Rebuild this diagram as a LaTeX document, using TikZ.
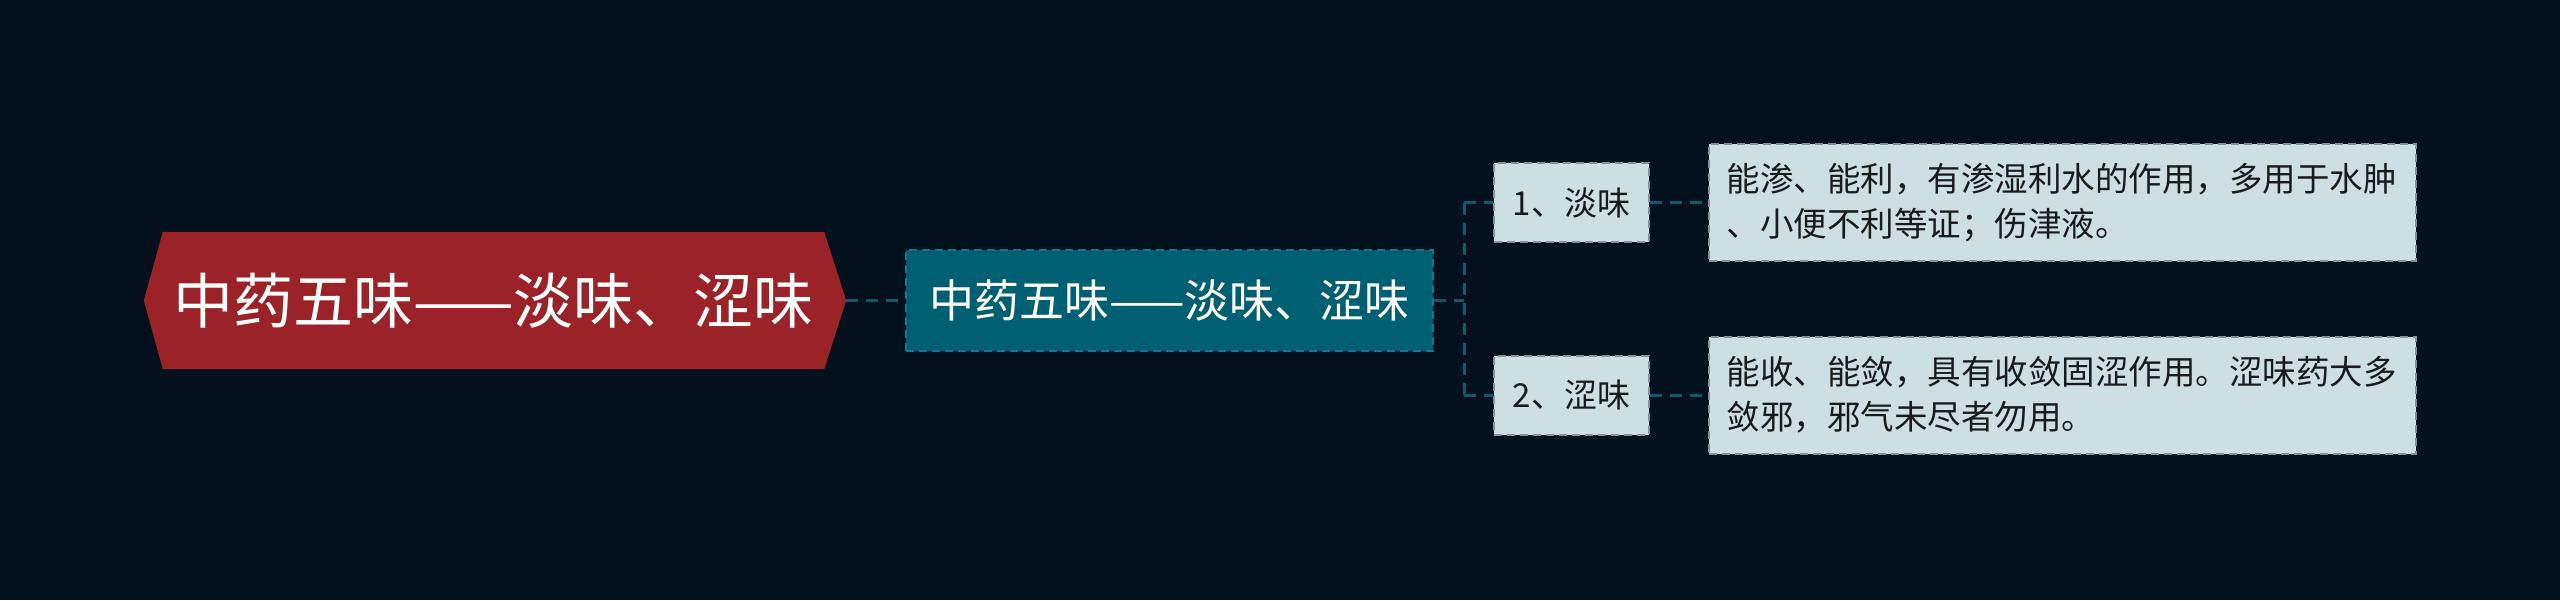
\documentclass[tikz,border=0pt]{standalone}
\usepackage{fontspec}
\setmainfont{Noto Sans CJK SC}
\usetikzlibrary{calc}
\definecolor{bg}{HTML}{02111B}
\definecolor{rootred}{HTML}{9B2226}
\definecolor{midteal}{HTML}{005F73}
\definecolor{midedge}{HTML}{0A7A90}
\definecolor{lightbox}{HTML}{CDDFE3}
\definecolor{lightedge}{HTML}{7E9499}
\definecolor{linkc}{HTML}{0E5A6A}
\definecolor{darktext}{HTML}{1A1A1A}
\tikzset{
  rootbox/.style={inner sep=0pt, minimum width=661pt, minimum height=137pt, text=white, font=\fontsize{60}{64}\selectfont},
  midbox/.style={fill=midteal, draw=midedge, dashed, dash pattern=on 8pt off 5pt, line width=2pt, minimum width=527pt, minimum height=101pt, inner sep=0pt, text=white, font=\fontsize{45}{50}\selectfont},
  itembox/.style={fill=lightbox, draw=lightedge, dash pattern=on 8pt off 5pt, line width=2pt, minimum width=155pt, minimum height=79pt, inner sep=0pt, text=darktext, font=\fontsize{33}{38}\selectfont},
  textbox/.style={fill=lightbox, draw=lightedge, dash pattern=on 8pt off 5pt, line width=2pt, minimum width=707pt, minimum height=117pt, inner sep=0pt, text=darktext, font=\fontsize{33.5}{45}\selectfont, align=left, text width=672pt},
  link/.style={draw=linkc, line width=3pt, dash pattern=on 12pt off 8pt}
}
\begin{document}
\begin{tikzpicture}[x=1pt,y=-1pt]
\fill[bg] (0,0) rectangle (2560,600);
\useasboundingbox (0,0) rectangle (2560,600);
% root
\node[rootbox] (root) at (493.5,300.5) {};
\fill[rootred] (root.north west) -- (root.north east) -- ($(root.east)+(22,0)$) coordinate (rootR) -- (root.south east) -- (root.south west) -- ($(root.west)+(-19,0)$) -- cycle;
\node[rootbox] (roottxt) at (root.center) {中药五味——淡味、涩味};
% middle
\node[midbox] (mid) at (1169.5,300.5) {中药五味——淡味、涩味};
% items
\node[itembox] (it1) at (1571.5,202.5) {1、淡味};
\node[itembox] (it2) at (1571.5,395) {2、涩味};
% text boxes
\node[textbox] (tb1) at (2062.5,202.5) {能渗、能利，有渗湿利水的作用，多用于水肿\\、小便不利等证；伤津液。};
\node[textbox] (tb2) at (2062.5,395) {能收、能敛，具有收敛固涩作用。涩味药大多\\敛邪，邪气未尽者勿用。};
% connectors
\coordinate (br) at (1464,300.5);
\draw[link] (rootR) -- (mid.west);
\draw[link] (mid.east) -- (br);
\draw[link] (br |- it1.west) -- (br |- it2.west);
\draw[link] (br |- it1.west) -- (it1.west);
\draw[link] (br |- it2.west) -- (it2.west);
\draw[link] (it1.east) -- (tb1.west);
\draw[link] (it2.east) -- (tb2.west);
\end{tikzpicture}
\end{document}
